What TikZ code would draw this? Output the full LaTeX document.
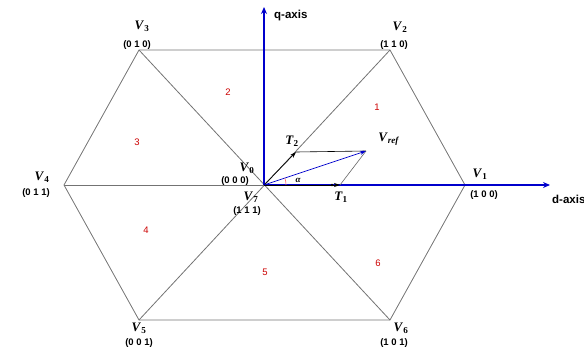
\documentclass[tikz,border=0pt]{standalone}
\usepackage{fontspec}
\setmainfont{Liberation Serif}
\setsansfont{Liberation Sans}
\usetikzlibrary{arrows.meta}
\newcommand{\vl}[2]{\textbf{\textit{#1}}\textsubscript{\textbf{#2}}}
\begin{document}
\begin{tikzpicture}[x=1pt,y=-1pt,
  hexline/.style={draw=black!55,line width=0.8pt},
  axis/.style={draw=blue!80!black,line width=1.6pt,-{Stealth[length=7pt,width=6pt]}},
  vlab/.style={font=\fontsize{13}{13}\selectfont,inner sep=0pt},
  code/.style={font=\sffamily\bfseries\fontsize{9.5}{10}\selectfont,inner sep=0pt},
  sector/.style={text=red!80!black,font=\sffamily\fontsize{9.5}{9.5}\selectfont,inner sep=0pt},
  axlab/.style={font=\sffamily\bfseries\fontsize{11.5}{11.5}\selectfont,inner sep=0pt,anchor=west},
  vec/.style={line width=0.7pt,-{Stealth[length=6pt,width=4pt]}}]
\useasboundingbox (0,0) rectangle (584,351);
\coordinate (O) at (264,185);
\coordinate (P1) at (465,185);
\coordinate (P2) at (390,50);
\coordinate (P3) at (139,50);
\coordinate (P4) at (64,185);
\coordinate (P5) at (139,320);
\coordinate (P6) at (390,320);
% hexagon and diagonals
\draw[hexline] (P1) -- (P2) -- (P3) -- (P4) -- (P5) -- (P6) -- cycle;
\draw[hexline] (P4) -- (O);
\draw[hexline] (P3) -- (P6);
\draw[hexline] (P2) -- (P5);
% axes
\coordinate (dend) at (550,185);
\coordinate (qend) at (264,7);
\draw[axis] (O) -- (dend);
\draw[axis] (O) -- (qend);
\node[axlab] (qlab) at (274,16) {q-axis};
\node[axlab] (dlab) at (552,199) {d-axis};
% vectors
\coordinate (Vr) at (366,151);
\coordinate (T2e) at (296,152);
\coordinate (T1e) at (340,185);
\draw[line width=0.6pt] (T2e) -- (Vr);
\draw[black!60,line width=0.6pt] (T1e) -- (Vr);
\draw[vec,black] (O) -- (T2e);
\draw[vec,black] (O) -- (T1e);
\draw[vec,draw=blue!80!black] (O) -- (Vr);
\fill (T1e) ++(-8,0) circle (1.4pt);
\draw[red!60,line width=0.6pt] ([xshift=22pt]O) arc[start angle=0,end angle=18,radius=22pt];
\node[font=\fontsize{9}{9}\selectfont\itshape\bfseries,inner sep=0pt] (alpha) at (298,180) {α};
\node[vlab] (T2l) at (292,141) {\vl{T}{2}};
\node[vlab] (T1l) at (341,197) {\vl{T}{1}};
\node[vlab] (Vrl) at (389,139) {\vl{V}{\itshape ref}};
% vertex labels
\node[vlab] (V1) at (480,174) {\vl{V}{1}};
\node[code] (c1) at (484,195) {(1 0 0)};
\node[vlab] (V2) at (400,27) {\vl{V}{2}};
\node[code] (c2) at (394,45) {(1 1 0)};
\node[vlab] (V3) at (142,26) {\vl{V}{3}};
\node[code] (c3) at (137,45) {(0 1 0)};
\node[vlab] (V4) at (42,177) {\vl{V}{4}};
\node[code] (c4) at (36,193) {(0 1 1)};
\node[vlab] (V5) at (139,328) {\vl{V}{5}};
\node[code] (c5) at (139,343) {(0 0 1)};
\node[vlab] (V6) at (401,328) {\vl{V}{6}};
\node[code] (c6) at (394,343) {(1 0 1)};
\node[vlab] (V0) at (247,168) {\vl{V}{0}};
\node[code] (c0) at (235,181) {(0 0 0)};
\node[vlab] (V7) at (251,197) {\vl{V}{7}};
\node[code] (c7) at (247,211) {(1 1 1)};
% sectors
\node[sector] (s1) at (377,107) {1};
\node[sector] (s2) at (228,92) {2};
\node[sector] (s3) at (137,142) {3};
\node[sector] (s4) at (146,230) {4};
\node[sector] (s5) at (265,272) {5};
\node[sector] (s6) at (378,263) {6};
\end{tikzpicture}
\end{document}
